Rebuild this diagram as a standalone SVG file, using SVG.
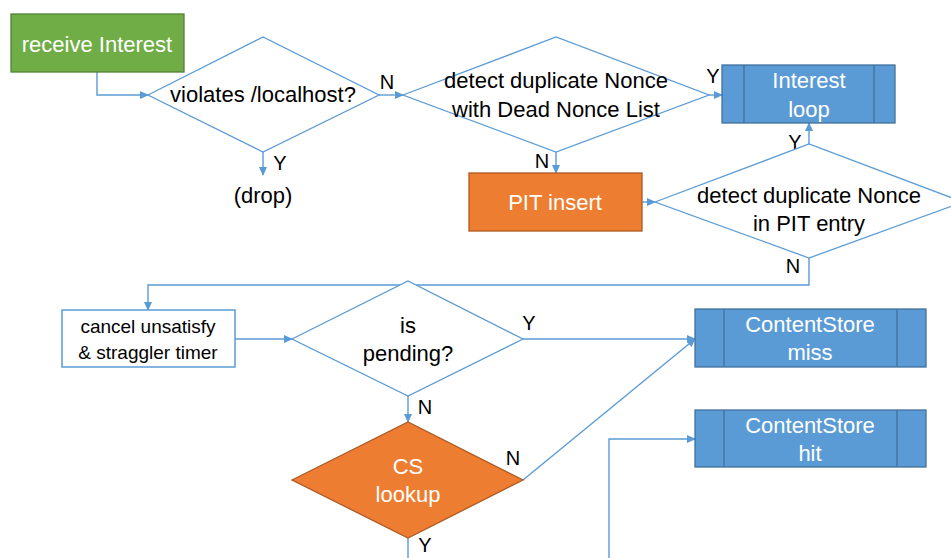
<svg xmlns="http://www.w3.org/2000/svg" width="951" height="558" viewBox="0 0 951 558">
<defs>
<marker id="ah" markerWidth="9" markerHeight="8" refX="8" refY="4" orient="auto" markerUnits="userSpaceOnUse">
<path d="M0,0 L9,4 L0,8 Z" fill="#5B9BD5"/>
</marker>
<style>
text{font-family:"Liberation Sans",Arial,sans-serif;text-anchor:middle}
.t{font-size:22px;fill:#000}
.w{font-size:22px;fill:#fff}
.s{font-size:19px;fill:#000}
.l{font-size:20px;fill:#000}
.dia{fill:#fff;stroke:#5B9BD5;stroke-width:1.3}
.conn{fill:none;stroke:#5B9BD5;stroke-width:1.4}
.green{fill:#70AD47;stroke:#548235;stroke-width:1.3}
.orange{fill:#ED7D31;stroke:#AE5A21;stroke-width:1.3}
.blue{fill:#5B9BD5;stroke:#41719C;stroke-width:1.3}
.box{fill:#fff;stroke:#5B9BD5;stroke-width:1.5}
</style>
</defs>
<rect width="951" height="558" fill="#fff"/>

<g id="connectors">
<path class="conn" d="M97,72 V95 H148" marker-end="url(#ah)"/>
<path class="conn" d="M263,152 V175" marker-end="url(#ah)"/>
<path class="conn" d="M379,95 H403" marker-end="url(#ah)"/>
<path class="conn" d="M709,95 H722" marker-end="url(#ah)"/>
<path class="conn" d="M556,152 V173" marker-end="url(#ah)"/>
<path class="conn" d="M642,202 H655" marker-end="url(#ah)"/>
<path class="conn" d="M809,144 V123" marker-end="url(#ah)"/>
<path class="conn" d="M809,258 V285 H148 V310" marker-end="url(#ah)"/>
<path class="conn" d="M235,339 H292" marker-end="url(#ah)"/>
<path class="conn" d="M523,339 H695" marker-end="url(#ah)"/>
<path class="conn" d="M408,396 V422" marker-end="url(#ah)"/>
<path class="conn" d="M523,480 L695,339" marker-end="url(#ah)"/>
<path class="conn" d="M408,538 V558"/>
<path class="conn" d="M609,558 V439 H695" marker-end="url(#ah)"/>
<text class="l" x="387" y="89">N</text>
<text class="l" x="280" y="170">Y</text>
<text class="l" x="713" y="83">Y</text>
<text class="l" x="542" y="168">N</text>
<text class="l" x="795" y="149">Y</text>
<text class="l" x="793" y="273">N</text>
<text class="l" x="529" y="330">Y</text>
<text class="l" x="425" y="414">N</text>
<text class="l" x="513" y="465">N</text>
<text class="l" x="425" y="552">Y</text>
</g>

<g id="receive-interest">
<rect class="green" x="11" y="14" width="173" height="58"/>
<text class="w" x="97" y="52">receive Interest</text>
</g>

<g id="violates-localhost">
<polygon class="dia" points="148,95 263,37 379,95 263,152"/>
<text class="t" x="263" y="102">violates /localhost?</text>
</g>

<g id="drop">
<text class="t" x="263" y="203">(drop)</text>
</g>

<g id="dead-nonce">
<polygon class="dia" points="403,95 556,37 709,95 556,152"/>
<text class="t" x="556" y="88">detect duplicate Nonce</text>
<text class="t" x="556" y="117">with Dead Nonce List</text>
</g>

<g id="interest-loop">
<rect class="blue" x="722" y="65" width="173" height="58"/>
<line x1="744" y1="65" x2="744" y2="123" stroke="#41719C" stroke-width="1.3"/>
<line x1="874" y1="65" x2="874" y2="123" stroke="#41719C" stroke-width="1.3"/>
<text class="w" x="809" y="88">Interest</text>
<text class="w" x="809" y="117">loop</text>
</g>

<g id="pit-insert">
<rect class="orange" x="469" y="173" width="173" height="58"/>
<text class="w" x="555" y="210">PIT insert</text>
</g>

<g id="pit-dup">
<polygon class="dia" points="655,202 809,144 963,202 809,258"/>
<text class="t" x="809" y="203">detect duplicate Nonce</text>
<text class="t" x="809" y="231">in PIT entry</text>
</g>

<g id="cancel-timer">
<rect class="box" x="62" y="310" width="173" height="57"/>
<text class="s" x="148" y="333">cancel unsatisfy</text>
<text class="s" x="148" y="359">&amp; straggler timer</text>
</g>

<g id="is-pending">
<polygon class="dia" points="292,339 408,281 523,339 408,396"/>
<text class="t" x="408" y="333">is</text>
<text class="t" x="408" y="361">pending?</text>
</g>

<g id="cs-lookup">
<polygon class="orange" points="292,480 408,422 523,480 408,538"/>
<text class="w" x="408" y="474">CS</text>
<text class="w" x="408" y="502">lookup</text>
</g>

<g id="cs-miss">
<rect class="blue" x="695" y="309" width="231" height="58"/>
<line x1="724" y1="309" x2="724" y2="367" stroke="#41719C" stroke-width="1.3"/>
<line x1="897" y1="309" x2="897" y2="367" stroke="#41719C" stroke-width="1.3"/>
<text class="w" x="810" y="332">ContentStore</text>
<text class="w" x="810" y="360">miss</text>
</g>

<g id="cs-hit">
<rect class="blue" x="695" y="410" width="231" height="57"/>
<line x1="724" y1="410" x2="724" y2="467" stroke="#41719C" stroke-width="1.3"/>
<line x1="897" y1="410" x2="897" y2="467" stroke="#41719C" stroke-width="1.3"/>
<text class="w" x="810" y="433">ContentStore</text>
<text class="w" x="810" y="461">hit</text>
</g>
</svg>
